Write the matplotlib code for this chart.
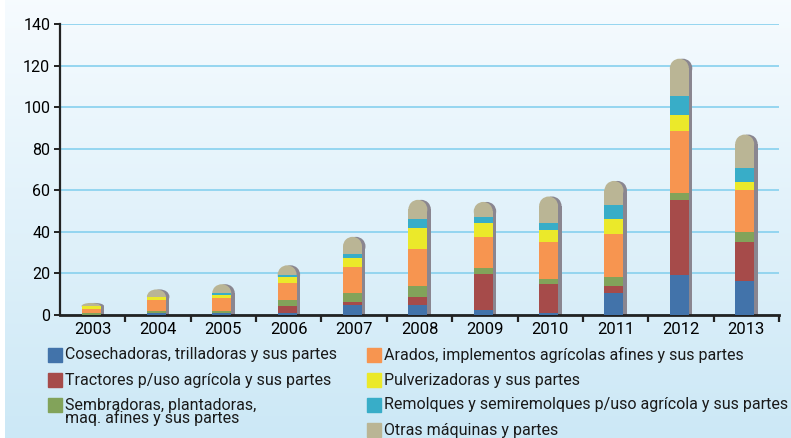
import numpy as np
import matplotlib
matplotlib.use("Agg")
import matplotlib.pyplot as plt
from matplotlib.patches import Rectangle, Ellipse

plt.rcParams['font.family'] = ['Roboto', 'DejaVu Sans']

years = ["2003", "2004", "2005", "2006", "2007", "2008",
         "2009", "2010", "2011", "2012", "2013"]

labels = [
    "Cosechadoras, trilladoras y sus partes",
    "Tractores p/uso agrícola y sus partes",
    "Sembradoras, plantadoras,\nmaq. afines y sus partes",
    "Arados, implementos agrícolas afines y sus partes",
    "Pulverizadoras y sus partes",
    "Remolques y semiremolques p/uso agrícola y sus partes",
    "Otras máquinas y partes",
]
colors = ["#4273aa", "#a64b4a", "#82a35a", "#f79550",
          "#ebe92a", "#38adc8", "#bab595"]

cosechadoras = [0.2, 0.8, 0.8, 1.1, 4.8, 4.8, 2.4, 1.0, 10.6, 19.3, 16.4]
tractores = [0.0, 0.1, 0.1, 3.4, 1.5, 3.9, 17.3, 13.9, 3.4, 36.1, 18.8]
sembradoras = [0.8, 1.0, 1.0, 2.7, 4.3, 5.3, 2.9, 2.4, 4.3, 3.3, 4.8]
arados = [2.1, 5.3, 6.4, 8.2, 12.5, 17.8, 15.0, 17.9, 20.7, 29.9, 20.2]
pulverizadoras = [1.1, 1.5, 1.3, 2.9, 4.3, 10.1, 6.7, 5.8, 7.2, 7.7, 3.8]
remolques = [0.1, 0.1, 1.0, 1.0, 2.0, 4.3, 2.9, 3.3, 6.8, 9.2, 6.8]
otras = [1.5, 3.5, 4.2, 4.6, 8.2, 9.2, 7.2, 12.7, 11.5, 17.8, 16.0]

series = [cosechadoras, tractores, sembradoras, arados,
          pulverizadoras, remolques, otras]

W, H = 791, 438
fig = plt.figure(figsize=(W / 100, H / 100), dpi=100)

# background gradient (thin white strip on the left edge)
bg = fig.add_axes([5 / W, 0, 1 - 5 / W, 1], zorder=-10)
grad = np.linspace(0, 1, 256).reshape(-1, 1)
top = np.array([0.965, 0.985, 0.998])
bot = np.array([0.80, 0.91, 0.965])
img = top[None, None, :] * (1 - grad[:, :, None]) + bot[None, None, :] * grad[:, :, None]
bg.imshow(img, aspect="auto", extent=[0, 1, 0, 1])
bg.set_axis_off()

ax = fig.add_axes([60 / W, 1 - 315 / H, 719 / W, 291 / H])
ax.set_facecolor("none")

x = np.arange(len(years))
bw = 0.29
off = -0.025
px_x = 719 / 11.0          # pixels per x unit
px_y = 291 / 140.0         # pixels per y unit
sh = 3.5 / px_x            # shadow offset
r_y = (bw * px_x / 2) / px_y  # dome radius in y units

data = np.array(series)
totals = data.sum(axis=0)

for i in range(len(years)):
    tot = totals[i]
    h_cap = min(r_y, data[-1, i])
    # shadow (lower half of the dome hides behind the bar)
    ax.bar(x[i] + off + sh, tot - h_cap, bw, color="#8a8690", zorder=2,
           linewidth=0)
    ax.add_patch(Ellipse((x[i] + off + sh, tot - h_cap), bw, 2 * h_cap,
                         facecolor="#8a8690", linewidth=0, zorder=1.9))
    bottom = 0
    for k in range(len(series)):
        v = data[k, i]
        if k == len(series) - 1:
            ax.bar(x[i] + off, v - h_cap, bw, bottom=bottom,
                   color=colors[k], zorder=3, linewidth=0)
            ax.add_patch(Ellipse((x[i] + off, tot - h_cap), bw, 2 * h_cap,
                                 facecolor=colors[k], linewidth=0,
                                 zorder=2.9))
        else:
            ax.bar(x[i] + off, v, bw, bottom=bottom, color=colors[k],
                   zorder=3, linewidth=0)
        bottom += v

ax.set_xlim(-0.5, len(years) - 0.5)
ax.set_ylim(0, 140)
ax.set_yticks(range(0, 141, 20))
ax.yaxis.grid(True, color="#8ed3ef", linewidth=1.3, zorder=0)
ax.set_axisbelow(True)

ax.set_xticks(x)
ax.set_xticklabels(years)
ax.set_xticks(np.arange(0.5, len(years), 1), minor=True)
ax.tick_params(axis="x", which="major", length=0, pad=5, labelsize=12)
ax.tick_params(axis="x", which="minor", length=5, width=1.6, color="#222222")
ax.tick_params(axis="y", length=4, width=1.4, pad=3, labelsize=11.5,
               color="#222222")

for s in ["top", "right"]:
    ax.spines[s].set_visible(False)
ax.spines["left"].set_linewidth(1.6)
ax.spines["bottom"].set_linewidth(2.0)
ax.spines["left"].set_color("#222222")
ax.spines["bottom"].set_color("#222222")

# legend drawn by hand
leg_pos = [(48, 355), (48, 380), (48, 405), (367, 355), (367, 380),
           (367, 405), (367, 430)]
for (lx, ly), lab, c in zip(leg_pos, labels, colors):
    fig.patches.append(Rectangle((lx / W, 1 - (ly + 7) / H), 14 / W, 14 / H,
                                 transform=fig.transFigure, color=c,
                                 figure=fig))
    if "\n" in lab:
        fig.text((lx + 17) / W, 1 - (ly - 7) / H, lab, fontsize=11.5,
                 va="top", ha="left", linespacing=0.8, color="#1a1a1a")
    else:
        fig.text((lx + 17) / W, 1 - ly / H, lab, fontsize=11.5,
                 va="center", ha="left", color="#1a1a1a")

fig.savefig("out.png", dpi=100)
